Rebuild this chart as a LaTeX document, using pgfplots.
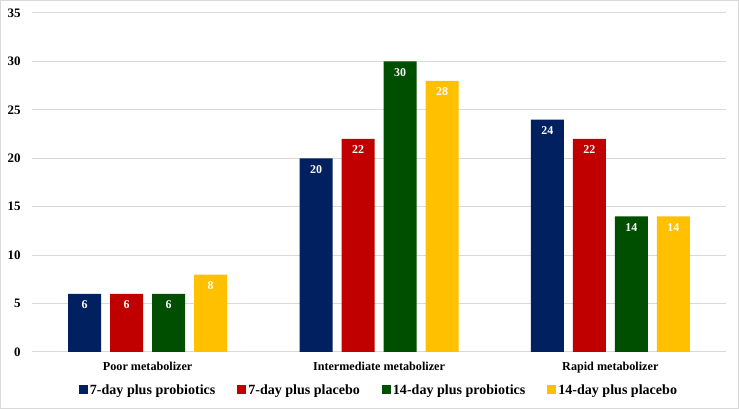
\documentclass[border=0pt]{standalone}
\usepackage{pgfplots}
\pgfplotsset{compat=1.18}
\usepackage{fontspec}
\setmainfont{Liberation Serif}
\definecolor{cblue}{HTML}{002060}
\definecolor{cred}{HTML}{C00000}
\definecolor{cgreen}{HTML}{004E00}
\definecolor{cyellow}{HTML}{FFC000}
\definecolor{gridc}{HTML}{D9D9D9}
\begin{document}
\begin{tikzpicture}
\draw[color=gridc, line width=1bp] (0.5bp,0.5bp) rectangle (738.5bp,408.5bp);
\begin{axis}[
  at={(32bp,57bp)}, anchor=south west,
  scale only axis, width=694bp, height=339bp,
  ymin=0, ymax=35, ytick={0,5,...,35},
  xmin=-0.5, xmax=2.5,
  xtick={0,1,2},
  xticklabels={Poor metabolizer, Intermediate metabolizer, Rapid metabolizer},
  axis line style={draw=none},
  major tick length=0pt,
  ymajorgrids, grid style={color=gridc, line width=1bp},
  ybar=9bp, bar width=33bp,
  /pgf/number format/assume math mode=true,
  yticklabel style={xshift=-8bp, font=\fontsize{13}{15}\selectfont\bfseries},
  xticklabel style={yshift=-7bp, font=\fontsize{12.2}{14}\selectfont\bfseries},
  nodes near coords,
  every node near coord/.append style={anchor=north, yshift=-3.5bp, text=white, font=\fontsize{12}{14}\selectfont\bfseries},
  legend style={draw=none, at={(0.5,-0.112)}, anchor=center, legend columns=4,
    font=\fontsize{14.1}{16}\selectfont\bfseries,
    /tikz/every even column/.append style={column sep=20bp}},
  legend image code/.code={\fill[#1,draw=none] (0bp,-4bp) rectangle (9bp,5bp);},
]
\addplot[fill=cblue, draw=none] coordinates {(0,6) (1,20) (2,24)};
\addplot[fill=cred, draw=none] coordinates {(0,6) (1,22) (2,22)};
\addplot[fill=cgreen, draw=none] coordinates {(0,6) (1,30) (2,14)};
\addplot[fill=cyellow, draw=none] coordinates {(0,8) (1,28) (2,14)};
\legend{7-day plus probiotics, 7-day plus placebo, 14-day plus probiotics, 14-day plus placebo}
\end{axis}
\end{tikzpicture}
\end{document}
